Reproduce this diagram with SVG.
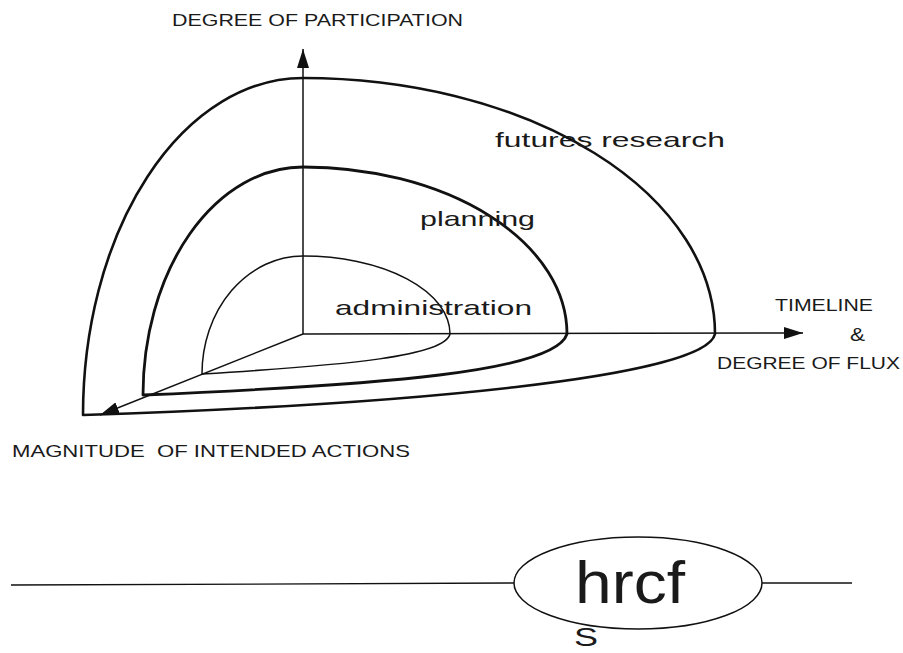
<svg xmlns="http://www.w3.org/2000/svg" width="903" height="653" viewBox="0 0 903 653">
<style>
.lbl{font-family:"Liberation Sans","Arial",sans-serif;fill:#1a1a1a}
.cap{font-size:17px}
.ring{fill:none;stroke:#111;stroke-linejoin:round}
.axis{stroke:#111;stroke-width:1.5;fill:none}
</style>
<defs>
<marker id="ah" markerUnits="userSpaceOnUse" markerWidth="20" markerHeight="12" refX="19" refY="6" orient="auto">
<path d="M0,0 L19,6 L0,12 z" fill="#111"/>
</marker>
</defs>
<rect width="903" height="653" fill="#fff"/>
<g id="ring-futures">
<path class="ring" stroke-width="2.6" d="M83,415 A220 337 0 0 1 303,78 A412 256 0 0 1 715,334 C705,378 400,405 83,415 Z"/>
</g>
<g id="ring-planning">
<path class="ring" stroke-width="2.8" d="M143,395 A160 228 0 0 1 303,167 A264 167 0 0 1 567,334 C555,372 380,385 143,395 Z"/>
</g>
<g id="ring-administration">
<path class="ring" stroke-width="1.5" d="M202,374 A101 118 0 0 1 303,256 A147 78 0 0 1 450,334 C445,356 350,365 202,374 Z"/>
</g>
<g id="axes">
<line class="axis" x1="303" y1="334" x2="303" y2="49" marker-end="url(#ah)"/>
<line class="axis" x1="303" y1="334" x2="803" y2="333" marker-end="url(#ah)"/>
<line class="axis" x1="303" y1="334" x2="100" y2="415" marker-end="url(#ah)"/>
</g>
<g id="labels">
<text class="lbl cap" x="172" y="26" textLength="291" lengthAdjust="spacingAndGlyphs">DEGREE OF PARTICIPATION</text>
<text class="lbl" x="495" y="147" font-size="21" textLength="230" lengthAdjust="spacingAndGlyphs">futures research</text>
<text class="lbl" x="420" y="226" font-size="21" textLength="115" lengthAdjust="spacingAndGlyphs">planning</text>
<text class="lbl" x="335" y="315" font-size="21" textLength="197" lengthAdjust="spacingAndGlyphs">administration</text>
<text class="lbl cap" x="775" y="311" textLength="98" lengthAdjust="spacingAndGlyphs">TIMELINE</text>
<text class="lbl" x="850" y="341" font-size="18" textLength="15" lengthAdjust="spacingAndGlyphs">&amp;</text>
<text class="lbl cap" x="717" y="369" textLength="183" lengthAdjust="spacingAndGlyphs">DEGREE OF FLUX</text>
<text class="lbl cap" x="12" y="457" textLength="398" lengthAdjust="spacingAndGlyphs" xml:space="preserve">MAGNITUDE  OF INTENDED ACTIONS</text>
</g>
<g id="hrcf-line">
<line x1="11" y1="585" x2="514" y2="583" stroke="#111" stroke-width="1.3"/>
<line x1="762" y1="583" x2="852" y2="583" stroke="#111" stroke-width="1.3"/>
</g>
<g id="hrcf">
<ellipse cx="638" cy="583" rx="124" ry="46" fill="none" stroke="#111" stroke-width="1.5"/>
<text class="lbl" x="575" y="603" font-size="60" textLength="110" lengthAdjust="spacingAndGlyphs">hrcf</text>
<text class="lbl" x="574" y="646" font-size="25" textLength="24" lengthAdjust="spacingAndGlyphs">S</text>
</g>
</svg>
